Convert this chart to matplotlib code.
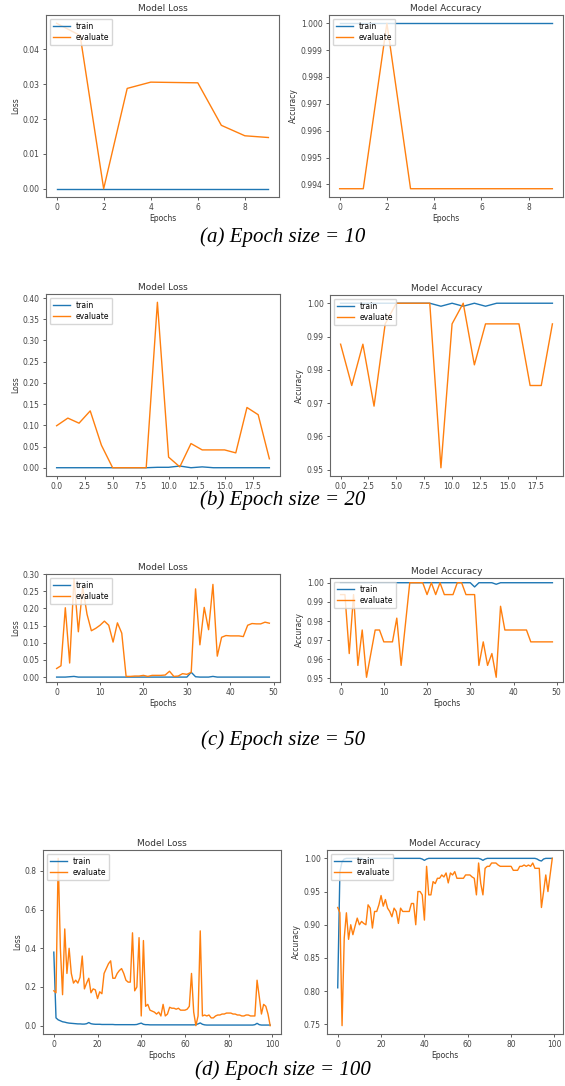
import numpy             as np
import matplotlib.pyplot as plt


# ---- data ----

# (a) 10 epochs
a_loss_train = [0.0, 0.0, 0.0, 0.0, 0.0, 0.0, 0.0, 0.0, 0.0, 0.0]
a_loss_eval  = [0.0475, 0.044, 0.0, 0.0288, 0.0306, 0.0305, 0.0304, 0.0182, 0.0152, 0.0147]
a_acc_train  = [1.0, 1.0, 1.0, 1.0, 1.0, 1.0, 1.0, 1.0, 1.0, 1.0]
a_acc_eval   = [0.99384, 0.99384, 1.0, 0.99384, 0.99384, 0.99384, 0.99384, 0.99384, 0.99384, 0.99384]

# (b) 20 epochs
b_loss_train = [0.0, 0.0, 0.0, 0.0, 0.0, 0.0, 0.0, 0.0, 0.0, 0.001,
                0.001, 0.004, 0.0, 0.002, 0.0, 0.0, 0.0, 0.0, 0.0, 0.0]
b_loss_eval  = [0.099, 0.117, 0.105, 0.134, 0.053, 0.0, 0.0, 0.0, 0.0, 0.390,
                0.025, 0.002, 0.057, 0.042, 0.042, 0.042, 0.035, 0.142, 0.125, 0.021]
b_acc_train  = [1.0, 1.0, 1.0, 1.0, 1.0, 1.0, 1.0, 1.0, 1.0, 0.9991,
                1.0, 0.9991, 1.0, 0.9991, 1.0, 1.0, 1.0, 1.0, 1.0, 1.0]
b_acc_eval   = [0.9877, 0.9753, 0.9877, 0.9691, 0.9938, 1.0, 1.0, 1.0, 1.0, 0.9506,
                0.9938, 1.0, 0.9815, 0.9938, 0.9938, 0.9938, 0.9938, 0.9753, 0.9753, 0.9938]

# (c) 50 epochs
c_loss_train = [0.0, 0.0, 0.0, 0.001, 0.002, 0.0, 0.0, 0.0, 0.0, 0.0,
                0.0, 0.0, 0.0, 0.0, 0.0, 0.0, 0.0, 0.0, 0.0, 0.0,
                0.0, 0.0, 0.0, 0.0, 0.0, 0.0, 0.0, 0.0, 0.0, 0.0,
                0.0, 0.014, 0.001, 0.0, 0.0, 0.0, 0.002, 0.0, 0.0, 0.0,
                0.0, 0.0, 0.0, 0.0, 0.0, 0.0, 0.0, 0.0, 0.0, 0.0]
c_loss_eval  = [0.025, 0.033, 0.202, 0.041, 0.286, 0.132, 0.262, 0.183, 0.135, 0.142,
                0.151, 0.163, 0.151, 0.102, 0.158, 0.128, 0.002, 0.002, 0.003, 0.003,
                0.005, 0.002, 0.005, 0.005, 0.005, 0.006, 0.017, 0.002, 0.003, 0.010,
                0.008, 0.014, 0.257, 0.094, 0.203, 0.138, 0.270, 0.061, 0.116, 0.121,
                0.120, 0.120, 0.120, 0.118, 0.151, 0.156, 0.155, 0.155, 0.160, 0.157]
c_acc_train  = [1.0, 1.0, 1.0, 1.0, 1.0, 1.0, 1.0, 1.0, 1.0, 1.0,
                1.0, 1.0, 1.0, 1.0, 1.0, 1.0, 1.0, 1.0, 1.0, 1.0,
                1.0, 1.0, 1.0, 1.0, 1.0, 1.0, 1.0, 1.0, 1.0, 1.0,
                1.0, 0.9978, 1.0, 1.0, 1.0, 1.0, 0.9992, 1.0, 1.0, 1.0,
                1.0, 1.0, 1.0, 1.0, 1.0, 1.0, 1.0, 1.0, 1.0, 1.0]
c_acc_eval   = [0.9938, 0.9938, 0.9630, 0.9938, 0.9568, 0.9753, 0.9506, 0.9630, 0.9753, 0.9753,
                0.9691, 0.9691, 0.9691, 0.9815, 0.9568, 0.9784, 1.0, 1.0, 1.0, 1.0,
                0.9938, 1.0, 0.9938, 1.0, 0.9938, 0.9938, 0.9938, 1.0, 1.0, 0.9938,
                0.9938, 0.9938, 0.9568, 0.9691, 0.9568, 0.9630, 0.9506, 0.9877, 0.9753, 0.9753,
                0.9753, 0.9753, 0.9753, 0.9753, 0.9691, 0.9691, 0.9691, 0.9691, 0.9691, 0.9691]

# (d) 100 epochs
d_loss_train = [0.38, 0.04, 0.03, 0.025, 0.02, 0.018, 0.015, 0.013, 0.012, 0.011,
                0.01, 0.009, 0.009, 0.008, 0.008, 0.01, 0.016, 0.01, 0.008, 0.007,
                0.007, 0.007, 0.006, 0.006, 0.006, 0.006, 0.006, 0.006, 0.005, 0.005,
                0.005, 0.005, 0.005, 0.005, 0.005, 0.005, 0.005, 0.005, 0.006, 0.01,
                0.013, 0.007, 0.005, 0.005, 0.004, 0.004, 0.004, 0.004, 0.004, 0.004,
                0.004, 0.004, 0.004, 0.004, 0.004, 0.004, 0.004, 0.004, 0.004, 0.004,
                0.004, 0.004, 0.004, 0.004, 0.004, 0.005, 0.009, 0.014, 0.007, 0.004,
                0.003, 0.003, 0.003, 0.003, 0.003, 0.003, 0.003, 0.003, 0.003, 0.003,
                0.003, 0.003, 0.003, 0.003, 0.003, 0.003, 0.003, 0.003, 0.003, 0.003,
                0.003, 0.003, 0.005, 0.012, 0.005, 0.003, 0.003, 0.003, 0.003, 0.003]
d_loss_eval  = [0.18, 0.17, 0.865, 0.40, 0.16, 0.50, 0.27, 0.40, 0.27, 0.22,
                0.235, 0.22, 0.25, 0.36, 0.19, 0.22, 0.245, 0.17, 0.19, 0.185,
                0.14, 0.175, 0.165, 0.27, 0.295, 0.32, 0.335, 0.245, 0.245, 0.27,
                0.285, 0.295, 0.27, 0.235, 0.225, 0.225, 0.48, 0.18, 0.20, 0.455,
                0.05, 0.44, 0.10, 0.11, 0.08, 0.075, 0.07, 0.06, 0.07, 0.05,
                0.11, 0.05, 0.06, 0.095, 0.09, 0.09, 0.085, 0.09, 0.08, 0.08,
                0.08, 0.085, 0.10, 0.27, 0.07, 0.0, 0.05, 0.49, 0.05, 0.055,
                0.05, 0.055, 0.04, 0.04, 0.05, 0.055, 0.055, 0.06, 0.06, 0.065,
                0.065, 0.065, 0.06, 0.06, 0.055, 0.055, 0.05, 0.05, 0.055, 0.055,
                0.05, 0.05, 0.05, 0.235, 0.15, 0.06, 0.11, 0.10, 0.06, 0.0]
d_acc_train  = [0.805, 0.98, 0.995, 0.999, 1.0, 1.0, 1.0, 1.0, 1.0, 1.0,
                1.0, 1.0, 0.998, 0.996, 0.999, 1.0, 1.0, 1.0, 1.0, 1.0,
                1.0, 1.0, 1.0, 1.0, 1.0, 1.0, 1.0, 1.0, 1.0, 1.0,
                1.0, 1.0, 1.0, 1.0, 1.0, 1.0, 1.0, 1.0, 1.0, 0.999,
                0.997, 0.999, 1.0, 1.0, 1.0, 1.0, 1.0, 1.0, 1.0, 1.0,
                1.0, 1.0, 1.0, 1.0, 1.0, 1.0, 1.0, 1.0, 1.0, 1.0,
                1.0, 1.0, 1.0, 1.0, 1.0, 1.0, 0.999, 0.997, 0.999, 1.0,
                1.0, 1.0, 1.0, 1.0, 1.0, 1.0, 1.0, 1.0, 1.0, 1.0,
                1.0, 1.0, 1.0, 1.0, 1.0, 1.0, 1.0, 1.0, 1.0, 1.0,
                1.0, 1.0, 0.999, 0.997, 0.996, 0.999, 1.0, 1.0, 1.0, 1.0]
d_acc_eval   = [0.926, 0.918, 0.748, 0.88, 0.918, 0.878, 0.90, 0.885, 0.898, 0.91,
                0.90, 0.905, 0.902, 0.90, 0.93, 0.925, 0.895, 0.92, 0.92, 0.93,
                0.944, 0.928, 0.938, 0.925, 0.92, 0.912, 0.925, 0.92, 0.902, 0.925,
                0.92, 0.92, 0.92, 0.92, 0.932, 0.932, 0.90, 0.95, 0.95, 0.945,
                0.907, 0.988, 0.945, 0.945, 0.965, 0.962, 0.97, 0.97, 0.975, 0.972,
                0.978, 0.963, 0.978, 0.975, 0.98, 0.97, 0.97, 0.97, 0.97, 0.975,
                0.975, 0.975, 0.972, 0.97, 0.945, 0.993, 0.962, 0.945, 0.985, 0.988,
                0.988, 0.993, 0.993, 0.993, 0.99, 0.988, 0.988, 0.988, 0.988, 0.988,
                0.988, 0.982, 0.982, 0.982, 0.988, 0.988, 0.99, 0.988, 0.99, 0.988,
                0.993, 0.985, 0.985, 0.985, 0.926, 0.95, 0.975, 0.95, 0.975, 1.0]

captions = ['(a) Epoch size = 10', '(b) Epoch size = 20',
            '(c) Epoch size = 50', '(d) Epoch size = 100']


# ---- layout: pixel boxes (left, top, right, bottom) of a 565x1086 image ----
W, H = 565, 1086
fig = plt.figure( figsize=(W/100, H/100), dpi=100 )

def box( l, t, r, b ):
    return [ l/W, 1 - b/H, (r-l)/W, (b-t)/H ]

rows = [
    # left box, right box, show xlabel, caption y
    ( (46, 15, 279, 197),  (329, 15, 563, 197),  True,  237 ),
    ( (46, 294, 280, 476), (330, 295, 563, 476), False, 500 ),
    ( (46, 574, 280, 682), (330, 578, 563, 682), True,  740 ),
    ( (43, 850, 281, 1034),(327, 850, 563, 1034),True,  1070 ),
]

data = [
    ( a_loss_train, a_loss_eval, a_acc_train, a_acc_eval ),
    ( b_loss_train, b_loss_eval, b_acc_train, b_acc_eval ),
    ( c_loss_train, c_loss_eval, c_acc_train, c_acc_eval ),
    ( d_loss_train, d_loss_eval, d_acc_train, d_acc_eval ),
]

fs = 5.5

def panel( rect, train, evaluate, title, ylabel, xlabel ):
    ax = fig.add_axes( box(*rect) )
    ax.plot( train,    color='#1f77b4', lw=1.0, label='train' )
    ax.plot( evaluate, color='#ff7f0e', lw=1.0, label='evaluate' )
    ax.set_title( title, fontsize=6.5, pad=3, color='#333333' )
    ax.set_ylabel( ylabel, fontsize=fs, labelpad=2, color='#333333' )
    if xlabel:
        ax.set_xlabel( 'Epochs', fontsize=fs, labelpad=1.5, color='#333333' )
    ax.tick_params( labelsize=fs, length=2.5, width=0.6, pad=2, colors='#444444' )
    for s in ax.spines.values():
        s.set_color( '#666666' )
        s.set_linewidth( 0.8 )
    ax.legend( loc='upper left', fontsize=fs, handlelength=2.2, borderpad=0.4,
               labelspacing=0.3, framealpha=0.8, edgecolor='#cccccc', fancybox=True )
    return ax

for (lrect, rrect, show_x, cap_y), (lt, le, at, ae), cap in zip( rows, data, captions ):
    panel( lrect, lt, le, 'Model Loss', 'Loss', show_x )
    panel( rrect, at, ae, 'Model Accuracy', 'Accuracy', show_x )
    fig.text( 283/W, 1 - cap_y/H, cap, ha='center', va='center', fontsize=15,
              family='Liberation Serif', style='italic' )

fig.savefig( 'out.png', dpi=100 )
